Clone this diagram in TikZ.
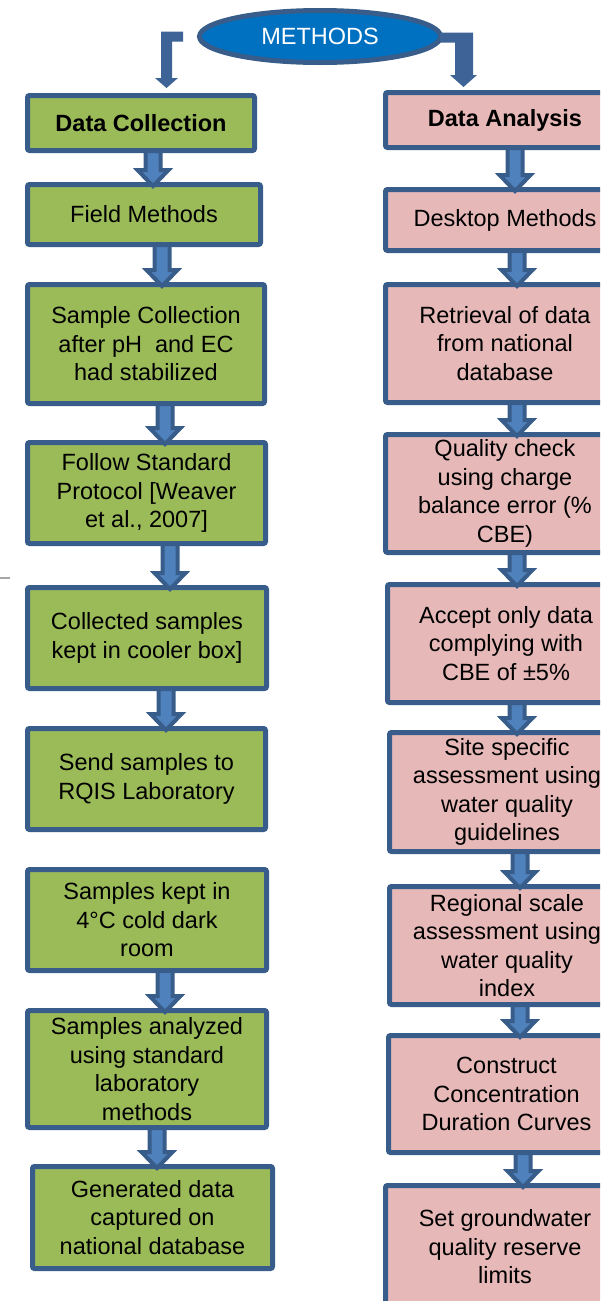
\documentclass[tikz,border=0pt]{standalone}
\usepackage{fontspec}
\setmainfont{Liberation Sans}
\usetikzlibrary{shapes.geometric,calc}

\definecolor{boxline}{HTML}{385D8A}
\definecolor{leafgreen}{HTML}{9BBB59}
\definecolor{rosepink}{HTML}{E6B9B8}
\definecolor{arrowfill}{HTML}{4F81BD}
\definecolor{bracketblue}{HTML}{3E6497}
\definecolor{ovalblue}{HTML}{0070C0}

\tikzset{
  flowbox/.style={draw=boxline, line width=5pt, rounded corners=2pt,
    align=center, text=black, inner sep=0pt,
    font=\fontsize{23.5pt}{28.5pt}\selectfont},
  greenbox/.style={flowbox, fill=leafgreen},
  pinkbox/.style={flowbox, fill=rosepink},
  headbox/.style={font=\fontsize{23.5pt}{28.5pt}\selectfont\bfseries},
  blockarrow/.style={fill=arrowfill, draw=boxline, line width=4pt, line join=miter},
  bracket/.style={fill=bracketblue},
}

% block arrow from the bottom of #1 to the top of #2, centred at x = #3
\newcommand\flowarrow[3]{%
  \filldraw[blockarrow] let \p1=(#1.south), \p2=(#2.north) in
    ({#3pt-7.5pt},{\y1+2pt}) -- ({#3pt+7.5pt},{\y1+2pt}) -- ({#3pt+7.5pt},{\y2+12pt})
    -- ({#3pt+15.5pt},{\y2+12pt}) -- (#3pt,{\y2-4pt}) -- ({#3pt-15.5pt},{\y2+12pt})
    -- ({#3pt-7.5pt},{\y2+12pt}) -- cycle;}

\begin{document}
\begin{tikzpicture}[x=1pt, y=-1pt]
\useasboundingbox (0,0) rectangle (600,1301);
\clip (0,0) rectangle (600,1301);

% top oval
\node[ellipse, draw=boxline, line width=5pt, fill=ovalblue, text=white,
      minimum width=241pt, minimum height=52pt, inner sep=0pt,
      font=\fontsize{23.5pt}{28pt}\selectfont] (methods) at (320,36.5) {METHODS};

% left column: data collection
\node[greenbox, headbox, minimum width=227pt, minimum height=55pt]  (dc) at (141,123)    {Data Collection};
\node[greenbox, minimum width=233pt, minimum height=60pt]  (fm) at (144,214.5)  {Field Methods};
\node[greenbox, minimum width=237pt, minimum height=119pt] (sc) at (146,344)    {Sample Collection\\after pH\ \ and EC\\had stabilized};
\node[greenbox, minimum width=238pt, minimum height=101pt] (fs) at (146.5,493)  {Follow Standard\\Protocol [Weaver\\et al., 2007]};
\node[greenbox, minimum width=239pt, minimum height=101pt] (cs) at (147,638)    {Collected samples\\kept in cooler box]};
\node[greenbox, minimum width=238pt, minimum height=101pt] (ss) at (146.5,779)  {Send samples to\\RQIS Laboratory};
\node[greenbox, minimum width=239pt, minimum height=101pt] (sk) at (147,920)    {Samples kept in\\4°C cold dark\\room};
\node[greenbox, minimum width=239pt, minimum height=117pt] (sa) at (147,1069)   {Samples analyzed\\using standard\\laboratory\\methods};
\node[greenbox, minimum width=240pt, minimum height=102pt] (gd) at (152.5,1217.5) {Generated data\\captured on\\national database};

% right column: data analysis
\node[pinkbox, headbox, minimum width=239pt, minimum height=55pt] (da) at (505,120) {Data Analysis};
\node[pinkbox, minimum width=239pt, minimum height=61pt]  (dm)   at (505,220)    {Desktop Methods};
\node[pinkbox, minimum width=239pt, minimum height=118pt] (ret)  at (505,343.5)  {Retrieval of data\\from national\\database};
\node[pinkbox, minimum width=239pt, minimum height=118pt] (qc)   at (505,493.5)  {Quality check\\using charge\\balance error (\%\\CBE)};
\node[pinkbox, minimum width=237pt, minimum height=118pt] (acc)  at (506,643.5)  {Accept only data\\complying with\\CBE of ±5\%};
\node[pinkbox, minimum width=235pt, minimum height=119pt] (site) at (507,792)    {Site specific\\assessment using\\water quality\\guidelines};
\node[pinkbox, minimum width=235pt, minimum height=118pt] (reg)  at (507,945.5)  {Regional scale\\assessment using\\water quality\\index};
\node[pinkbox, minimum width=236pt, minimum height=117pt] (con)  at (506.5,1094) {Construct\\Concentration\\Duration Curves};
\node[pinkbox, minimum width=239pt, minimum height=123pt] (set)  at (505,1247)   {Set groundwater\\quality reserve\\limits};

% bent connectors from the oval
\fill[bracket] let \p1=(methods.west), \p2=(dc.north) in
  ({\x1-14pt},{\y1+5pt}) -- (161pt,{\y1+5pt}) -- (161pt,{\y2+15pt}) -- (155pt,{\y2+15pt})
  -- (166.5pt,{\y2+5pt}) -- (178pt,{\y2+15pt}) -- (172pt,{\y2+15pt}) -- (172pt,{\y1-5pt})
  -- ({\x1-14pt},{\y1-5pt}) -- cycle;
\fill[bracket] let \p1=(methods.east), \p2=(da.north) in
  ({\x1-3pt},{\y1+4pt}) -- (473pt,{\y1+4pt}) -- (473pt,{\y2+15pt}) -- (477pt,{\y2+15pt})
  -- (463.5pt,{\y2+3pt}) -- (450pt,{\y2+15pt}) -- (455pt,{\y2+15pt}) -- (455pt,{\y1-6pt})
  -- ({\x1-3pt},{\y1-6pt}) -- cycle;

% arrows down the left column
\flowarrow{dc}{fm}{153}
\flowarrow{fm}{sc}{162}
\flowarrow{sc}{fs}{165}
\flowarrow{fs}{cs}{170}
\flowarrow{cs}{ss}{166}
\flowarrow{sk}{sa}{165}
\flowarrow{sa}{gd}{157}

% arrows down the right column
\flowarrow{da}{dm}{515}
\flowarrow{dm}{ret}{517}
\flowarrow{ret}{qc}{517}
\flowarrow{qc}{acc}{517}
\flowarrow{acc}{site}{517}
\flowarrow{site}{reg}{520}
\flowarrow{reg}{con}{520}
\flowarrow{con}{set}{523}

% short grey mark at the left margin
\draw[gray!70, line width=2pt] (0,578) -- (10,578);
\end{tikzpicture}
\end{document}
